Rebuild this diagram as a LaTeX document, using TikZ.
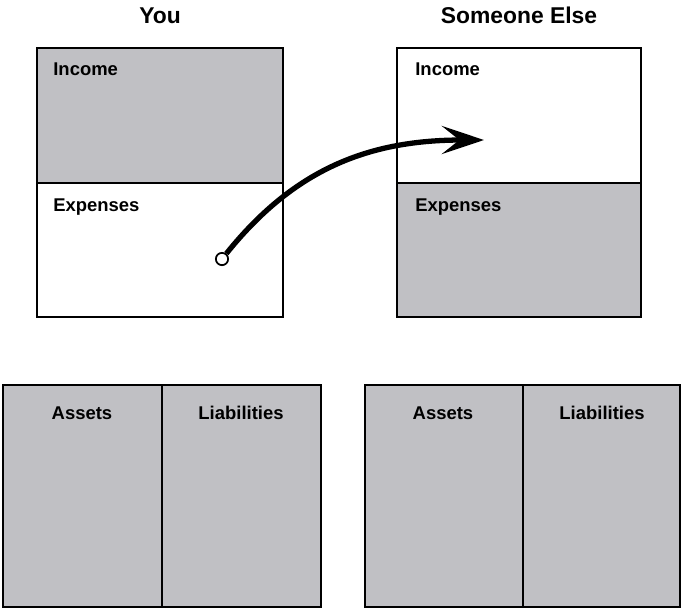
\documentclass[tikz,border=0pt]{standalone}
\usepackage{fontspec}
\setmainfont{Liberation Sans}
\usetikzlibrary{arrows.meta}
\definecolor{boxgray}{RGB}{192,192,196}

\begin{document}
\begin{tikzpicture}[x=0.02cm, y=-0.02cm,
    cell/.style={draw, line width=1.4pt},
    tag/.style={font=\bfseries\fontsize{10.5}{12}\selectfont, inner sep=0pt},
    head/.style={font=\bfseries\fontsize{13}{15}\selectfont, inner sep=0pt}]
    \useasboundingbox (0,0) rectangle (681,610);

    % income statements
    \fill [boxgray] (37,48) rectangle (283,183);
    \fill [boxgray] (397,183) rectangle (641,317);
    \begin{scope}[cell]
      \draw (37,48) rectangle (283,317); \draw (37,183) -- (283,183);
      \draw (397,48) rectangle (641,317); \draw (397,183) -- (641,183);
    \end{scope}

    % balance sheets
    \begin{scope}[cell, fill=boxgray]
      \filldraw (3,385) rectangle (321,607); \draw (162,385) -- (162,607);
      \filldraw (365,385) rectangle (680,607); \draw (523,385) -- (523,607);
    \end{scope}

    \begin{scope}[every node/.style={tag}]
      \node [head, anchor=base] (you) at (160,23) {You};
      \node [head, anchor=base] (else) at (519,23) {Someone Else};
      \node [anchor=base west] (inc1) at (53,75) {Income};
      \node [anchor=base west] (exp1) at (53,211) {Expenses};
      \node [anchor=base west] (inc2) at (415,75) {Income};
      \node [anchor=base west] (exp2) at (415,211) {Expenses};
      \node [anchor=base] (as1) at (82,419) {Assets};
      \node [anchor=base] (li1) at (241,419) {Liabilities};
      \node [anchor=base] (as2) at (443,419) {Assets};
      \node [anchor=base] (li2) at (602,419) {Liabilities};
    \end{scope}

    % money flowing out
    \node [circle, draw, fill=white, line width=1pt, minimum size=7pt, inner sep=0pt] (dot) at (222,259) {};
    \coordinate (tip) at (484,140);
    \draw [line width=3pt, -{Stealth[length=24pt, width=16pt, inset=10pt]}]
      (dot) .. controls (295,168) and (370,140) .. (tip);
  \end{tikzpicture}
\end{document}
